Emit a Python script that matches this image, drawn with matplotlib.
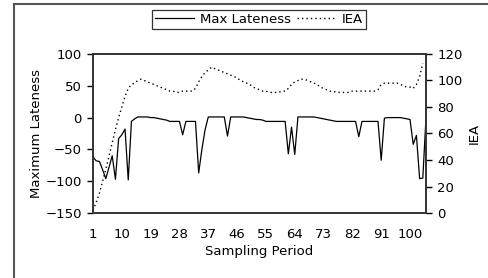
import numpy as np
import matplotlib.pyplot as plt
from matplotlib.lines import Line2D

# Max lateness per sampling period (left axis)
max_lateness = [
    -62, -68, -69, -82, -96, -78, -60, -97, -33, -27,
    -18, -98, -6, -2, 1, 1, 1, 1, 0, 0,
    -1, -2, -3, -4, -6, -6, -6, -6, -27, -6,
    -6, -6, -6, -87, -50, -19, 1, 1, 1, 1,
    1, 1, -29, 1, 1, 1, 1, 1, 0, -1,
    -2, -3, -3, -4, -6, -6, -6, -6, -6, -6,
    -6, -57, -15, -58, 1, 1, 1, 1, 1, 1,
    0, -1, -2, -3, -4, -5, -6, -6, -6, -6,
    -6, -6, -6, -30, -6, -6, -6, -6, -6, -6,
    -67, -1, 0, 0, 0, 0, 0, -1, -2, -3,
    -42, -28, -96, -95, 1,
]

# IEA per sampling period (right axis)
iea = [
    2, 8, 15, 24, 33, 43, 53, 63, 72, 80,
    88, 94, 97, 98, 100, 101, 100, 99, 98, 97,
    96, 95, 94, 93, 92, 92, 91, 91, 92, 92,
    92, 92, 94, 99, 103, 106, 108, 110, 109, 108,
    107, 106, 105, 104, 103, 102, 100, 99, 98, 97,
    95, 94, 93, 92, 92, 91, 91, 91, 91, 92,
    92, 94, 97, 99, 100, 101, 101, 100, 99, 98,
    97, 95, 94, 93, 92, 92, 91, 91, 91, 91,
    91, 92, 92, 92, 92, 92, 92, 92, 92, 93,
    97, 98, 98, 98, 98, 98, 97, 96, 95, 95,
    94, 97, 103, 113,
]

x_ticks = list(range(1, 101, 9))
left_ticks = [-150, -100, -50, 0, 50, 100]
right_ticks = [0, 20, 40, 60, 80, 100, 120]

plt.rcParams['font.family'] = ['DejaVu Sans']
plt.rcParams['font.size'] = 9.5

fig = plt.figure(figsize=(4.88, 2.78), dpi=100)
ax = fig.add_axes([0.1906, 0.2338, 0.873 - 0.1906, 0.8058 - 0.2338])
ax2 = ax.twinx()

x1 = np.arange(1, len(max_lateness) + 1)
x2 = np.arange(1, len(iea) + 1)
l1, = ax.plot(x1, max_lateness, color='black', lw=0.9)
l2, = ax2.plot(x2, iea, color='black', lw=1.0, linestyle=(0, (1, 2.2)))

ax.set_xlim(1, 105)
ax.set_ylim(-150, 100)
ax2.set_ylim(0, 120)
ax.set_xticks(x_ticks)
ax.set_yticks(left_ticks)
ax2.set_yticks(right_ticks)
ax.tick_params(axis='x', length=0, pad=11)
ax.tick_params(axis='y', length=4, width=1, pad=4)
ax2.tick_params(axis='y', length=4, width=1, pad=4)

for a in (ax, ax2):
    for s in a.spines.values():
        s.set_linewidth(1.2)
        s.set_color('#333333')

ax.set_xlabel('Sampling Period', labelpad=3)
ax.set_ylabel('Maximum Lateness', labelpad=2)
ax2.set_ylabel('IEA', labelpad=4)

fig.legend([l1, l2], ['Max Lateness', 'IEA'], loc='center',
           bbox_to_anchor=(0.531, 0.930), ncol=2, frameon=True,
           fancybox=False, edgecolor='black', handlelength=3.0,
           columnspacing=0.5, handletextpad=0.4, borderpad=0.2,
           fontsize=9.5).get_frame().set_linewidth(0.9)

# outer chart border (top and left edges visible)
fig.add_artist(Line2D([14 / 488, 1.0], [1 - 4 / 278, 1 - 4 / 278],
                      transform=fig.transFigure, color='#555555', lw=1.5))
fig.add_artist(Line2D([14 / 488, 14 / 488], [0.0, 1 - 4 / 278],
                      transform=fig.transFigure, color='#555555', lw=1.5))

fig.savefig('out.png', dpi=100)
